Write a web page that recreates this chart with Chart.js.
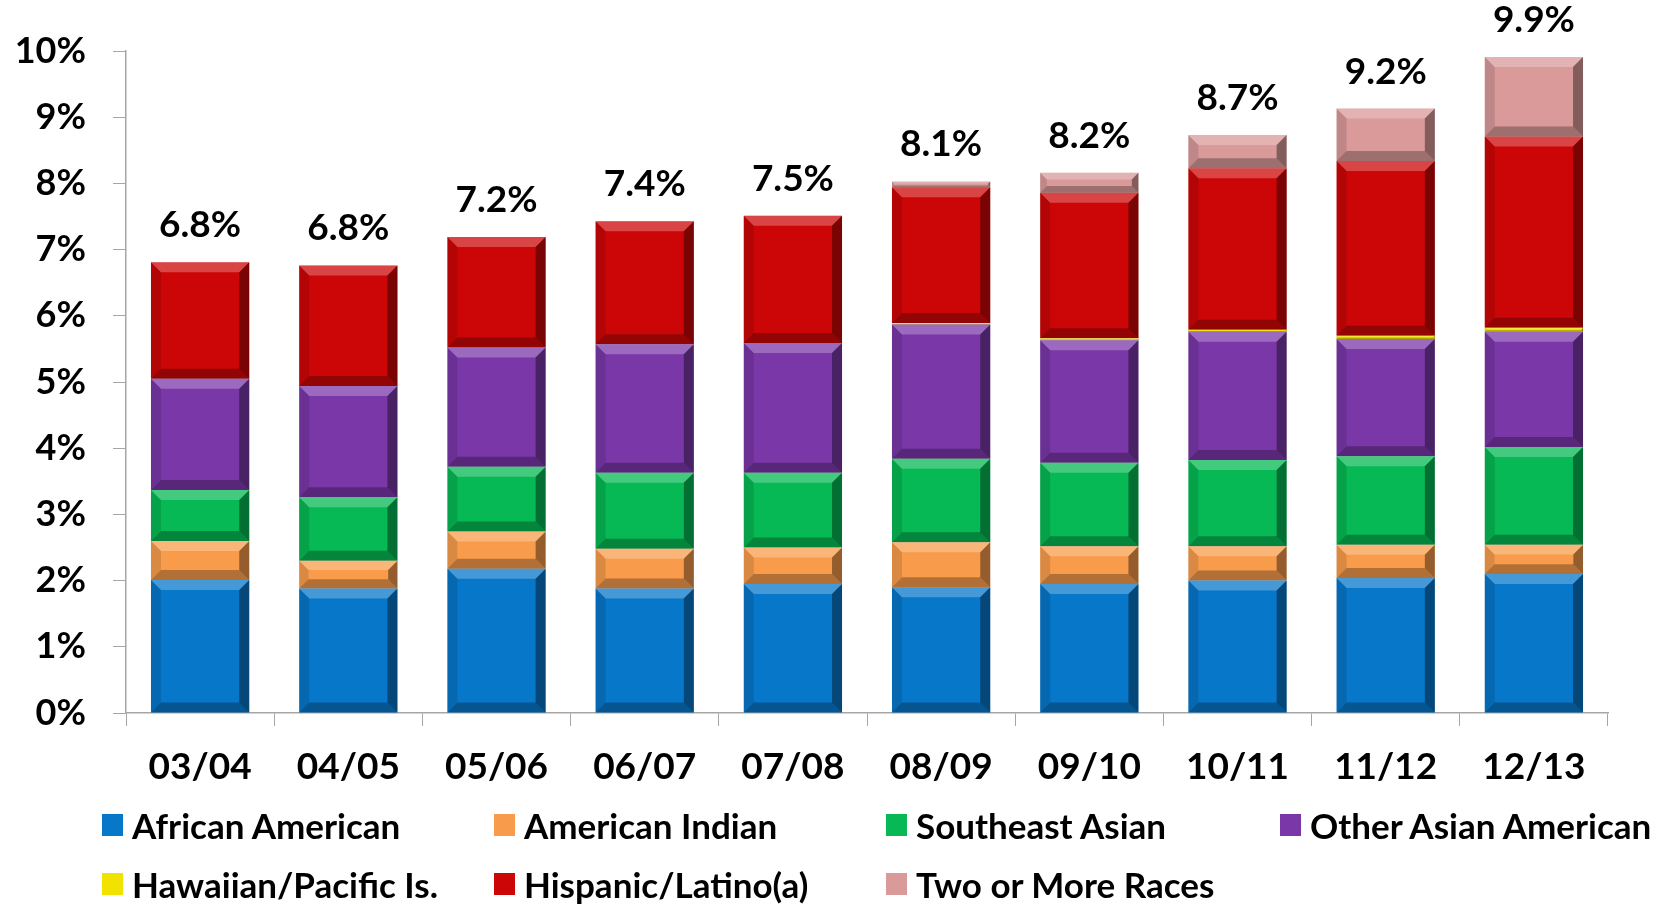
<!DOCTYPE html>
<html>
<head>
<meta charset="utf-8">
<script src="https://cdn.jsdelivr.net/npm/chart.js@4"></script>
<style>
  html, body { margin: 0; padding: 0; background: #fff; }
  #wrap { position: relative; width: 1667px; height: 904px; }
  #chart { position: absolute; left: 0; top: 0; }
  .leg { position: absolute; font: bold 35px Lato, sans-serif; color: #000; white-space: nowrap; line-height: 34px; }
  .leg i { position: absolute; left: 0; top: 6px; width: 21px; height: 22px; }
  .leg span { position: absolute; left: 30px; top: 0; }
</style>
</head>
<body>
<div id="wrap">
  <canvas id="chart" width="1667" height="904"></canvas>
</div>
<script>
var years = ['03/04', '04/05', '05/06', '06/07', '07/08', '08/09', '09/10', '10/11', '11/12', '12/13'];
var yTicks = ['0%', '1%', '2%', '3%', '4%', '5%', '6%', '7%', '8%', '9%', '10%'];

var african    = [2.01, 1.88, 2.18, 1.88, 1.95, 1.90, 1.95, 2.00, 2.04, 2.10];
var amIndian   = [0.59, 0.42, 0.56, 0.60, 0.55, 0.68, 0.57, 0.52, 0.50, 0.44];
var seAsian    = [0.77, 0.96, 0.98, 1.15, 1.13, 1.26, 1.26, 1.30, 1.34, 1.48];
var otherAsian = [1.68, 1.68, 1.80, 1.94, 1.96, 2.03, 1.85, 1.94, 1.77, 1.74];
var hawaiian   = [0, 0, 0, 0, 0, 0.02, 0.03, 0.03, 0.05, 0.06];
var hispanic   = [1.76, 1.82, 1.67, 1.86, 1.92, 2.05, 2.20, 2.44, 2.64, 2.89];
var twoOrMore  = [0, 0, 0, 0, 0, 0.09, 0.30, 0.50, 0.79, 1.20];
var totals     = [6.8, 6.8, 7.2, 7.4, 7.5, 8.1, 8.2, 8.7, 9.2, 9.9];

var series = [
  { label: 'African American', data: african, color: '#0777c9' },
  { label: 'American Indian', data: amIndian, color: '#f89c4c' },
  { label: 'Southeast Asian', data: seAsian, color: '#06b954' },
  { label: 'Other Asian American', data: otherAsian, color: '#7a37a8' },
  { label: 'Hawaiian/Pacific Is.', data: hawaiian, color: '#f2e200' },
  { label: 'Hispanic/Latino(a)', data: hispanic, color: '#cc0606' },
  { label: 'Two or More Races', data: twoOrMore, color: '#da9a9a' }
];

// legend grid like the original (4 columns, 2 rows)
var legCols = [102, 494, 886, 1280];
var legRows = [808, 867];
var wrap = document.getElementById('wrap');
series.forEach(function (s, i) {
  var d = document.createElement('div');
  d.className = 'leg';
  d.style.left = legCols[i % 4] + 'px';
  d.style.top = legRows[Math.floor(i / 4)] + 'px';
  d.innerHTML = '<i style="background:' + s.color + '"></i><span>' + s.label + '</span>';
  wrap.appendChild(d);
});

// bevel look on each bar segment
var bevelPlugin = {
  id: 'bevel',
  afterDatasetsDraw: function (chart) {
    var ctx = chart.ctx;
    chart.data.datasets.forEach(function (ds, di) {
      chart.getDatasetMeta(di).data.forEach(function (bar) {
        var p = bar.getProps(['x', 'y', 'base', 'width'], true);
        var l = p.x - p.width / 2, r = p.x + p.width / 2, t = p.y, b = p.base;
        var h = b - t;
        if (h < 1) return;
        var e = Math.min(10, h / 3);
        ctx.save();
        ctx.fillStyle = 'rgba(255,255,255,0.25)';
        ctx.beginPath(); ctx.moveTo(l, t); ctx.lineTo(r, t); ctx.lineTo(r - e, t + e); ctx.lineTo(l + e, t + e); ctx.fill();
        ctx.fillStyle = 'rgba(0,0,0,0.28)';
        ctx.beginPath(); ctx.moveTo(l, b); ctx.lineTo(r, b); ctx.lineTo(r - e, b - e); ctx.lineTo(l + e, b - e); ctx.fill();
        ctx.fillStyle = 'rgba(0,0,0,0.4)';
        ctx.beginPath(); ctx.moveTo(r, t); ctx.lineTo(r, b); ctx.lineTo(r - e, b - e); ctx.lineTo(r - e, t + e); ctx.fill();
        ctx.fillStyle = 'rgba(0,0,0,0.12)';
        ctx.beginPath(); ctx.moveTo(l, t); ctx.lineTo(l, b); ctx.lineTo(l + e, b - e); ctx.lineTo(l + e, t + e); ctx.fill();
        ctx.restore();
      });
    });
  }
};

// total labels above each stack
var totalsPlugin = {
  id: 'totals',
  afterDatasetsDraw: function (chart) {
    var ctx = chart.ctx, xs = chart.scales.x, ys = chart.scales.y;
    ctx.save();
    ctx.font = 'bold 37px Lato, sans-serif';
    ctx.fillStyle = '#000';
    ctx.textAlign = 'center';
    ctx.textBaseline = 'alphabetic';
    years.forEach(function (y, i) {
      var sum = 0;
      series.forEach(function (s) { sum += s.data[i]; });
      ctx.fillText(totals[i].toFixed(1) + '%', xs.getPixelForValue(i), ys.getPixelForValue(sum) - 25);
    });
    ctx.restore();
  }
};

new Chart(document.getElementById('chart'), {
  type: 'bar',
  data: {
    labels: years,
    datasets: series.map(function (s) {
      return { label: s.label, data: s.data, backgroundColor: s.color, borderWidth: 0,
               barPercentage: 0.663, categoryPercentage: 1 };
    })
  },
  options: {
    responsive: false,
    animation: false,
    layout: { padding: { top: 51, right: 59, left: 0, bottom: 0 } },
    plugins: { legend: { display: false }, tooltip: { enabled: false } },
    scales: {
      x: {
        stacked: true,
        grid: { drawOnChartArea: false, drawTicks: true, tickLength: 13, color: '#a6a6a6', offset: true },
        border: { color: '#a6a6a6', width: 1.5 },
        ticks: { color: '#000', font: { family: 'Lato', weight: 'bold', size: 37 }, padding: 19, maxRotation: 0 },
        afterFit: function (s) { s.height = 904 - 713; }
      },
      y: {
        stacked: true,
        min: 0, max: 10,
        grid: { drawOnChartArea: false, drawTicks: true, tickLength: 13, color: '#a6a6a6' },
        border: { color: '#a6a6a6', width: 1.5 },
        ticks: { stepSize: 1, color: '#000', font: { family: 'Lato', weight: 'bold', size: 36 }, padding: 27,
                 callback: function (v, i) { return yTicks[i]; } },
        afterFit: function (s) { s.width = 126; }
      }
    }
  },
  plugins: [bevelPlugin, totalsPlugin]
});
</script>
</body>
</html>
